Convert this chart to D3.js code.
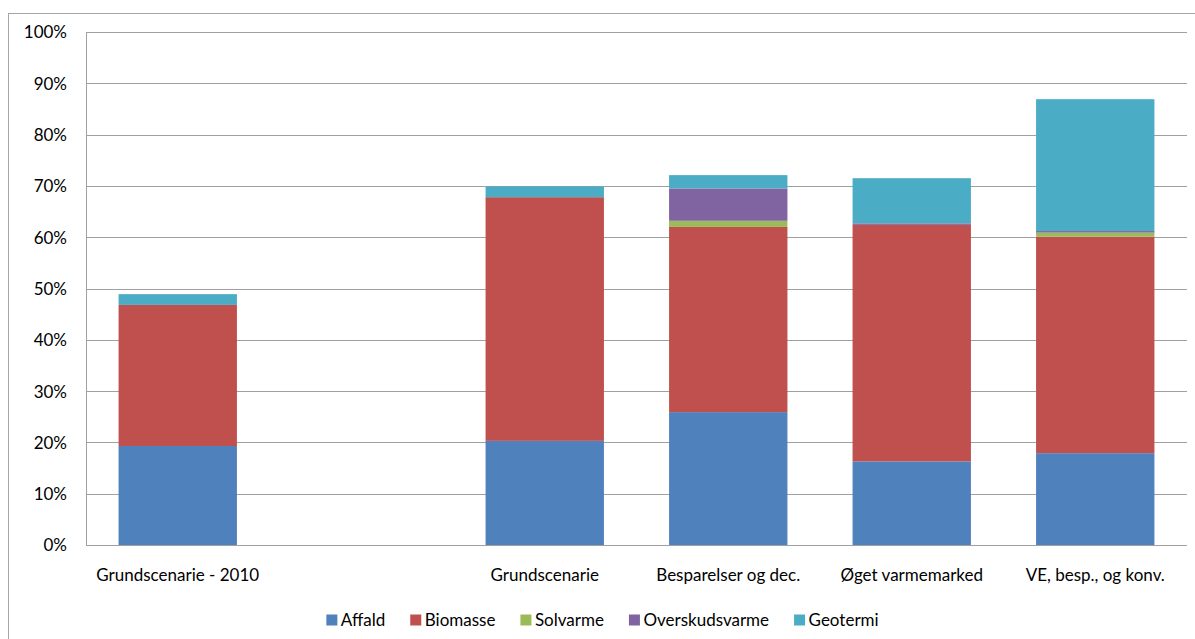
<!DOCTYPE html>
<html>
<head>
<meta charset="utf-8">
<script src="https://cdn.jsdelivr.net/npm/d3@7"></script>
<style>
  html, body { margin: 0; padding: 0; background: #fff; }
  svg { display: block; }
  text { font-family: Lato, "Open Sans", sans-serif; fill: #000; }
</style>
</head>
<body>
<svg id="chart" width="1195" height="639"></svg>
<script>
// Scenario categories (the blank one keeps a free slot on the axis)
const categories = ["Grundscenarie - 2010", "", "Grundscenarie", "Besparelser og dec.", "Øget varmemarked", "VE, besp., og konv."];

// Share per source, in percent
const affald         = [19.3, 0, 20.3, 25.9, 16.3, 17.9];
const biomasse       = [27.5, 0, 47.5, 36.1, 46.1, 42.2];
const solvarme       = [0,    0, 0,    1.2,  0,    0.8];
const overskudsvarme = [0,    0, 0,    6.3,  0.3,  0.3];
const geotermi       = [2.1,  0, 2.1,  2.6,  8.8,  25.7];

const seriesNames  = ["Affald", "Biomasse", "Solvarme", "Overskudsvarme", "Geotermi"];
const seriesValues = [affald, biomasse, solvarme, overskudsvarme, geotermi];
const seriesColors = ["#4F81BD", "#C0504D", "#9BBB59", "#8064A2", "#4BACC6"];

const yTicks = [0, 10, 20, 30, 40, 50, 60, 70, 80, 90, 100];

const FONT = "17px";
const svg = d3.select("#chart");
const W = 1195, H = 639;

// outer frame
svg.append("rect")
  .attr("x", 8.5).attr("y", 13.5)
  .attr("width", W + 10).attr("height", H + 10)
  .attr("fill", "none").attr("stroke", "#a6a6a6").attr("stroke-width", 1);

const plot = { left: 86, right: 1187, top: 32, bottom: 545 };

const x = d3.scaleBand()
  .domain(d3.range(categories.length))
  .range([plot.left, plot.right])
  .paddingInner(0.355)
  .paddingOuter(0.1775);

const y = d3.scaleLinear().domain([0, 100]).range([plot.bottom, plot.top]);

// gridlines
svg.append("g")
  .selectAll("line")
  .data(yTicks)
  .join("line")
  .attr("x1", plot.left).attr("x2", plot.right)
  .attr("y1", d => Math.round(y(d)) + 0.5).attr("y2", d => Math.round(y(d)) + 0.5)
  .attr("stroke", "#a0a0a0").attr("stroke-width", 1);

// y axis line
svg.append("line")
  .attr("x1", plot.left + 0.5).attr("x2", plot.left + 0.5)
  .attr("y1", plot.top).attr("y2", plot.bottom + 0.5)
  .attr("stroke", "#a0a0a0");

// y tick labels
const yAxis = d3.axisLeft(y).tickValues(yTicks).tickFormat(d => d + "%").tickSize(0).tickPadding(19);
const yg = svg.append("g").attr("transform", `translate(${plot.left},0.5)`).call(yAxis);
yg.select(".domain").remove();
yg.selectAll("text").style("font-family", "Lato, sans-serif").style("font-size", FONT).attr("fill", "#000");

// stacked bars
const rows = categories.map((c, i) => {
  const r = { idx: i };
  seriesNames.forEach((s, k) => r[s] = seriesValues[k][i]);
  return r;
});
const stack = d3.stack().keys(seriesNames)(rows);

svg.append("g")
  .selectAll("g")
  .data(stack)
  .join("g")
  .attr("fill", (d, k) => seriesColors[k])
  .selectAll("rect")
  .data(d => d.filter(p => p[1] - p[0] > 0))
  .join("rect")
  .attr("x", d => x(d.data.idx))
  .attr("width", x.bandwidth())
  .attr("y", d => y(d[1]))
  .attr("height", d => y(d[0]) - y(d[1]));

// x category labels
const xAxis = d3.axisBottom(x).tickFormat(i => categories[i]).tickSize(0).tickPadding(24);
const xg = svg.append("g").attr("transform", `translate(0,${plot.bottom})`).call(xAxis);
xg.select(".domain").remove();
xg.selectAll("text").style("font-family", "Lato, sans-serif").style("font-size", FONT).attr("fill", "#000");

// legend, centred in the frame
const legend = svg.append("g").attr("transform", "translate(0,620)");
const items = legend.selectAll("g").data(seriesNames).join("g");
items.append("rect").attr("width", 11).attr("height", 11).attr("y", -5.5)
  .attr("fill", (d, k) => seriesColors[k]);
items.append("text").attr("x", 14.5).attr("dy", "0.35em")
  .style("font-size", FONT).text(d => d);
let cx = 0;
const gap = 25;
items.each(function () {
  const g = d3.select(this);
  g.attr("transform", `translate(${cx},0)`);
  cx += 14.5 + g.select("text").node().getComputedTextLength() + gap;
});
const total = cx - gap;
legend.attr("transform", `translate(${(8 + W) / 2 - total / 2 + 1},620)`);
</script>
</body>
</html>
